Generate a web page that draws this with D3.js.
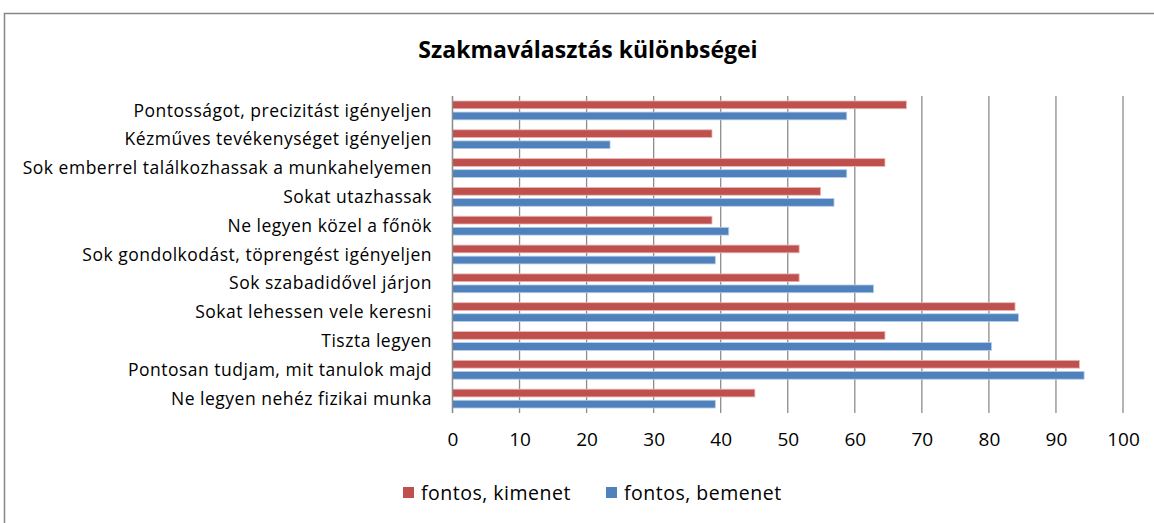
<!DOCTYPE html>
<html>
<head>
<meta charset="utf-8">
<script src="https://cdn.jsdelivr.net/npm/d3@7"></script>
<style>
  body { margin: 0; background: #fff; }
  text { font-family: "Open Sans", "DejaVu Sans", sans-serif; fill: #000; }
</style>
</head>
<body>
<svg width="1154" height="523"></svg>
<script>
"use strict";
// categories, top to bottom
var categories = [
    "Pontosságot, precizitást igényeljen",
    "Kézműves tevékenységet igényeljen",
    "Sok emberrel találkozhassak a munkahelyemen",
    "Sokat utazhassak",
    "Ne legyen közel a főnök",
    "Sok gondolkodást, töprengést igényeljen",
    "Sok szabadidővel járjon",
    "Sokat lehessen vele keresni",
    "Tiszta legyen",
    "Pontosan tudjam, mit tanulok majd",
    "Ne legyen nehéz fizikai munka"
];
var seriesNames = ["fontos, kimenet", "fontos, bemenet"];
var kimenet = [67.7, 38.7, 64.5, 54.9, 38.7, 51.7, 51.7, 83.9, 64.5, 93.5, 45.1];
var bemenet = [58.8, 23.5, 58.8, 56.9, 41.2, 39.2, 62.8, 84.4, 80.4, 94.2, 39.2];
var ticks = [0, 10, 20, 30, 40, 50, 60, 70, 80, 90, 100];
var colors = ["#C0504D", "#4F81BD"];

var svg = d3.select("svg"),
    width = +svg.attr("width"),
    height = +svg.attr("height");

// outer chart frame
svg.append("rect")
    .attr("x", 4.5).attr("y", 13.5)
    .attr("width", 1170).attr("height", 540)
    .attr("fill", "none")
    .attr("stroke", "#868686")
    .attr("stroke-width", 1.5);

svg.append("text")
    .attr("x", 588).attr("y", 58)
    .attr("text-anchor", "middle")
    .style("font-size", "23px")
    .style("font-weight", "bold")
    .text("Szakmaválasztás különbségei");

var x = d3.scaleLinear().domain([0, 100]).range([452.5, 1123]);
var y = d3.scaleBand().domain(categories).range([96, 413]);
var inner = d3.scaleBand().domain([0, 1]).range([0, y.bandwidth()]).paddingInner(0.3).paddingOuter(0.45);

// gridlines
svg.append("g")
    .selectAll("line")
    .data(ticks)
    .enter().append("line")
    .attr("x1", function(d) { return x(d); })
    .attr("x2", function(d) { return x(d); })
    .attr("y1", y.range()[0])
    .attr("y2", y.range()[1])
    .attr("stroke", "#8c8c8c")
    .attr("stroke-width", 1.3);

var rows = categories.map(function(c, i) {
    return { cat: c, vals: [kimenet[i], bemenet[i]] };
});

var group = svg.append("g")
    .selectAll("g")
    .data(rows)
    .enter().append("g")
    .attr("transform", function(d) { return "translate(0," + y(d.cat) + ")"; });

group.selectAll("rect")
    .data(function(d) { return d.vals.map(function(v, k) { return { k: k, v: v }; }); })
    .enter().append("rect")
    .attr("x", x(0))
    .attr("y", function(d) { return inner(d.k); })
    .attr("width", function(d) { return x(d.v) - x(0); })
    .attr("height", inner.bandwidth())
    .attr("fill", function(d) { return colors[d.k]; })
    .attr("stroke", function(d) { return d.k ? "#b9cde5" : "#e6b9b8"; })
    .attr("stroke-width", 0.8);

// category labels
svg.append("g")
    .selectAll("text")
    .data(categories)
    .enter().append("text")
    .attr("x", 432)
    .attr("y", function(d) { return y(d) + y.bandwidth() / 2; })
    .attr("dy", "0.35em")
    .attr("text-anchor", "end")
    .style("font-size", "17.5px")
    .style("letter-spacing", "0.5px")
    .text(function(d) { return d; });

// x axis
var xAxis = svg.append("g")
    .attr("transform", "translate(0," + 413 + ")")
    .call(d3.axisBottom(x).tickValues(ticks).tickSize(0).tickPadding(20));
xAxis.select(".domain").remove();
xAxis.selectAll("text")
    .style("font-size", "19px")
    .style("font-family", "'Open Sans', sans-serif")
    .attr("fill", "#000");

// left axis line
svg.append("line")
    .attr("x1", x(0)).attr("x2", x(0))
    .attr("y1", y.range()[0]).attr("y2", y.range()[1])
    .attr("stroke", "#8c8c8c").attr("stroke-width", 1.3);

// legend
var legendX = [403, 606];
var legend = svg.append("g")
    .selectAll("g")
    .data(seriesNames)
    .enter().append("g")
    .attr("transform", function(d, i) { return "translate(" + legendX[i] + ",493)"; });
legend.append("rect")
    .attr("x", 0).attr("y", -6)
    .attr("width", 11).attr("height", 11)
    .attr("fill", function(d, i) { return colors[i]; });
legend.append("text")
    .attr("x", 18).attr("y", 0)
    .attr("dy", "0.35em")
    .style("font-size", "19.5px")
    .style("letter-spacing", "0.5px")
    .text(function(d) { return d; });
</script>
</body>
</html>
